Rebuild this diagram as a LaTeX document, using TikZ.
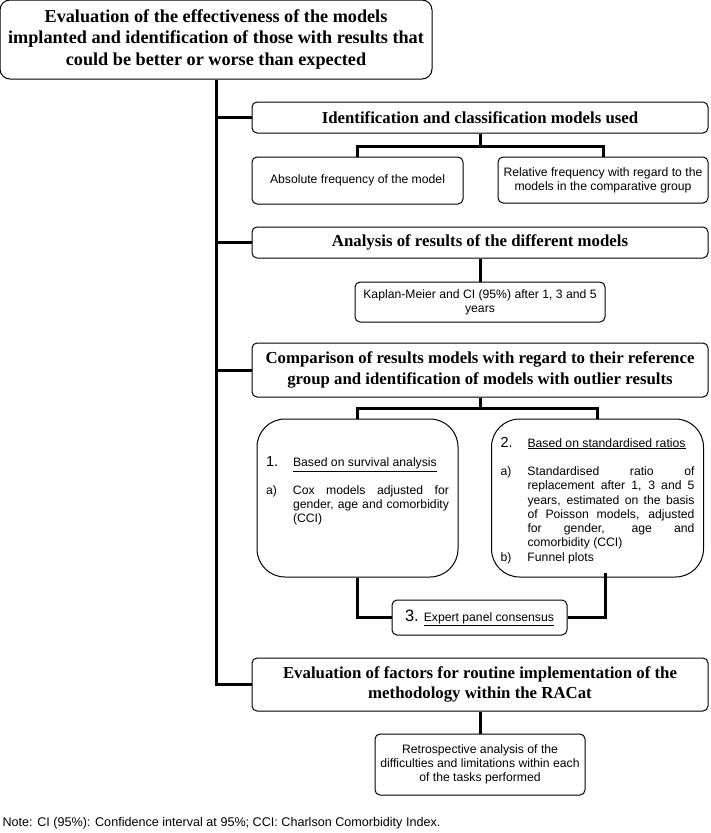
\documentclass[tikz,border=0pt]{standalone}
\usepackage{fontspec}
\setmainfont{Liberation Serif}
\setsansfont{Liberation Sans}
\begin{document}
\begin{tikzpicture}[x=1pt, y=-1pt,
  every node/.style = {draw, rounded corners=5pt, line width=1pt,
    fill=white, align=center, inner sep=0pt},
  headbox/.style = {minimum width=456pt,
    font=\bfseries\fontsize{16.8}{20.5}\selectfont},
  smallbox/.style = {font=\sffamily\fontsize{12.2}{14.3}\selectfont},
  bigbox/.style = {smallbox, rounded corners=28pt, inner xsep=9pt},
  link/.style = {line width=3pt}]
  \useasboundingbox (0,0) rectangle (710,833);
  % main task
  \node[headbox, minimum width=432pt, minimum height=79pt,
    rounded corners=10pt, font=\bfseries\fontsize{18.2}{21.5}\selectfont]
    (goal) at (216,39.5)
    {Evaluation of the effectiveness of the models\\
     implanted and identification of those with results that\\
     could be better or worse than expected};
  % step 1
  \node[headbox, minimum height=31pt] (ident) at (480,117.5)
    {Identification and classification models used};
  \node[smallbox, minimum width=211pt, minimum height=47pt] (absfreq)
    at (357.5,180.5) {Absolute frequency of the model};
  \node[smallbox, minimum width=210pt, minimum height=46pt] (relfreq)
    at (603,180) {Relative frequency with regard to the\\
     models in the comparative group};
  % step 2
  \node[headbox, minimum height=31pt] (analysis) at (480,242.5)
    {Analysis of results of the different models};
  \node[smallbox, minimum width=250pt, minimum height=40pt] (km)
    at (480,302) {Kaplan-Meier and CI (95\%) after 1, 3 and 5\\ years};
  % step 3
  \node[headbox, minimum height=54pt] (compare) at (480,370)
    {Comparison of results models with regard to their reference\\
     group and identification of models with outlier results};
  \node[bigbox] (survival) at (357.5,498)
    {\parbox[c][158pt][t]{183pt}{\vspace*{38pt}%
     \makebox[27pt][l]{\fontsize{14.5}{14.5}\selectfont 1.}%
     \underline{Based on survival analysis}\par
     \vspace{13pt}\hangindent=27pt\hangafter=1
     \makebox[27pt][l]{a)}Cox models adjusted for\linebreak
     gender, age and comorbidity\linebreak (CCI)}};
  \node[bigbox] (ratios) at (597.5,498)
    {\parbox[c][158pt][t]{194pt}{\vspace*{18pt}%
     \makebox[27pt][l]{\fontsize{14.5}{14.5}\selectfont 2.}%
     \underline{Based on standardised ratios}\par
     \vspace{14pt}\hangindent=27pt\hangafter=1
     \makebox[27pt][l]{a)}Standardised ratio of\linebreak
     replacement after 1, 3 and 5\linebreak
     years, estimated on the basis\linebreak
     of Poisson models, adjusted\linebreak
     for gender, age and\linebreak comorbidity (CCI)\par
     \hangindent=27pt\hangafter=1
     \makebox[27pt][l]{b)}Funnel plots}};
  \node[smallbox, minimum width=175pt, minimum height=35pt] (expert)
    at (479.5,617.5)
    {{\fontsize{16.5}{16.5}\selectfont 3.}\hspace{5pt}\underline{Expert panel consensus}};
  % step 4
  \node[headbox, minimum height=53pt] (factors) at (480,684.5)
    {Evaluation of factors for routine implementation of the\\
     methodology within the RACat};
  \node[smallbox, minimum width=210pt, minimum height=61pt] (retro)
    at (480,764.5) {Retrospective analysis of the\\
     difficulties and limitations within each\\ of the tasks performed};
  \node[draw=none, fill=none, anchor=west,
    font=\sffamily\fontsize{12.6}{14.5}\selectfont] (note) at (2,823)
    {Note: CI (95\%): Confidence interval at 95\%; CCI: Charlson Comorbidity Index.};
  % connectors
  \draw[link] (goal.south) -- (goal.south |- factors.west) -- (factors.west);
  \draw[link] (goal.south |- ident.west) -- (ident.west);
  \draw[link] (goal.south |- analysis.west) -- (analysis.west);
  \draw[link] (goal.south |- compare.west) -- (compare.west);
  \draw[link] (ident.south) -- ++(0,13) -| (absfreq.north);
  \draw[link] (ident.south) -- ++(0,13) -| (relfreq.north);
  \draw[link] (analysis.south) -- (km.north);
  \draw[link] (compare.south) -- ++(0,11) -| (survival.north);
  \draw[link] (compare.south) -- ++(0,11) -| (ratios.north);
  \draw[link] (survival.south) |- (expert.west);
  \draw[link] (expert.east) -| ([xshift=7.5pt,yshift=5pt]ratios.south);
  \draw[link] (factors.south) -- (retro.north);
\end{tikzpicture}
\end{document}
